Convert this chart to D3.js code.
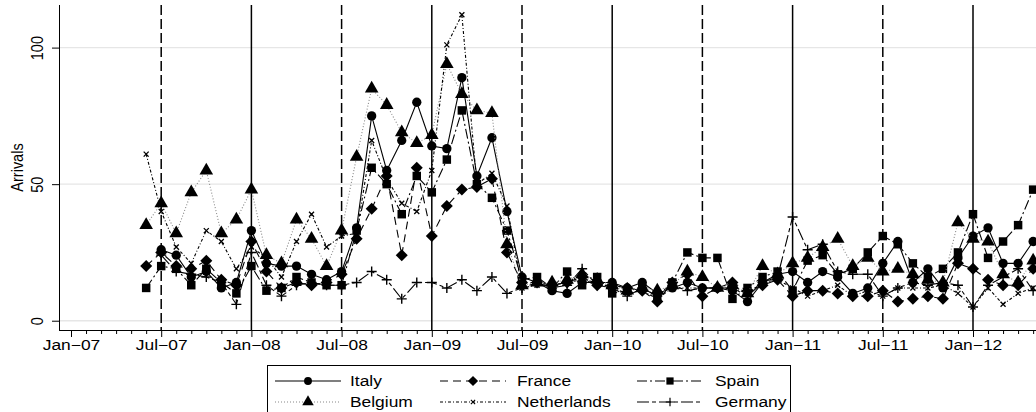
<!DOCTYPE html>
<html>
<head>
<meta charset="utf-8">
<script src="https://cdn.jsdelivr.net/npm/d3@7"></script>
<style>
  body { margin: 0; background: #fff; }
  svg { display: block; font-family: "Liberation Sans", Arial, sans-serif; }
</style>
</head>
<body>
<div id="chart"></div>
<script>
// months since Jan-07; data runs Jun-07 .. May-12
const firstMonth = 5;
const monthNames = ['Jan', 'Jul'];
const tickMonths = [0, 6, 12, 18, 24, 30, 36, 42, 48, 54, 60];
const solidLineMonths = [12, 24, 36, 48, 60];
const dashedLineMonths = [6, 18, 30, 42, 54];
const yTicks = [0, 50, 100];

const italy = [null, 26, 24, 16, 18, 12, 14, 33, 21, 20, 20, 17, 15, 18, 34, 75, 55, 66, 80, 64, 63, 89, 53, 67, 40, 16, 14, 11, 10, 14, 14, 14, 12, 14, 10, 12, 14, 12, 12, 11, 7, 14, 17, 18, 14, 18, 16, 10, 12, 21, 29, 14, 19, 12, 23, 31, 34, 21, 21, 29];
const france = [20, 25, 20, 19, 22, 15, 13, 29, 18, 12, 14, 13, 14, 17, 30, 41, 53, 24, 56, 31, 42, 48, 49, 52, 25, 14, 14, 13, 14, 16, 13, 13, 12, 11, 7, 14, 17, 9, 12, 14, 11, 13, 15, 9, 11, 11, 10, 9, 9, 11, 7, 8, 9, 8, 21, 19, 15, 13, 13, 19];
const spain = [12, 20, 19, 13, 19, 14, 10, 20, 11, 12, 16, 14, 13, 13, 33, 56, 50, 39, 53, 47, 59, 77, 50, 45, 33, 15, 16, 12, 18, 13, 16, 10, 11, 12, 9, 14, 25, 23, 23, 8, 12, 16, 18, 11, 22, 24, 17, 19, 25, 31, 28, 21, 16, 19, 25, 39, 23, 29, 35, 48];
const belgium = [35, 43, 32, 47, 55, 32, 37, 48, 24, 21, 37, 30, 20, 33, 60, 85, 79, 69, 65, 68, 94, 83, 77, 76, 28, 13, 14, 14, 15, 17, 15, 13, 11, 12, 11, 13, 18, 16, 12, 13, 10, 20, 17, 21, 23, 27, 30, 20, 23, 18, 19, 17, 15, 14, 36, 30, 29, 17, 14, 22];
const netherlands = [61, 40, 27, 21, 33, 29, 19, 27, 23, 16, 29, 39, 27, 31, 32, 66, 52, 43, 40, 55, 101, 112, 50, 54, 42, 12, 13, 13, 14, 15, 14, 12, 10, 11, 8, 12, 12, 12, 12, 12, 10, 14, 15, 12, 9, 11, 13, 9, 11, 9, 12, 12, 12, 13, 10, 5, 12, 6, 10, 12];
const germany = [null, 24, 18, 17, 16, 14, 6, 25, 13, 9, 13, 14, 13, 13, 14, 18, 15, 8, 14, 14, 12, 15, 11, 16, 10, 12, 14, 12, 13, 19, 13, 12, 9, 12, 9, 13, 11, 12, 12, 12, 9, 14, 16, 38, 26, 28, 18, 17, 17, 9, 12, 14, 13, 14, 13, 5, 13, 16, 19, 11];

const countries = ['Italy', 'France', 'Spain', 'Belgium', 'Netherlands', 'Germany'];
const seriesValues = [italy, france, spain, belgium, netherlands, germany];

const styles = {
  Italy: { dash: null, color: '#000', marker: 'circle' },
  France: { dash: '8,5', color: '#000', marker: 'diamond' },
  Spain: { dash: '10,3,2,3', color: '#000', marker: 'square' },
  Belgium: { dash: '1,2', color: '#888', marker: 'triangle' },
  Netherlands: { dash: '3,2,1,2', color: '#000', marker: 'x' },
  Germany: { dash: '12,3,4,3', color: '#000', marker: 'plus' }
};

const width = 1036;
const height = 412;
const fontSize = 14.5;
const stretch = 'scale(1.2,1)';

const x = d3.scaleLinear().domain([0, 60]).range([71, 973]);
const y = d3.scaleLinear().domain([-3.4, 115.6]).range([330, 5]);
const plotLeft = 59;

const svg = d3.select('#chart')
  .append('svg')
  .attr('width', width)
  .attr('height', height);

// horizontal grid
svg.append('g')
  .selectAll('line')
  .data(yTicks)
  .join('line')
  .attr('x1', plotLeft)
  .attr('x2', width)
  .attr('y1', d => y(d))
  .attr('y2', d => y(d))
  .attr('stroke', '#e6e6e6')
  .attr('stroke-width', 1.4);

// vertical reference lines
svg.append('g')
  .selectAll('line')
  .data(solidLineMonths)
  .join('line')
  .attr('x1', d => x(d))
  .attr('x2', d => x(d))
  .attr('y1', 5)
  .attr('y2', 330)
  .attr('stroke', '#000')
  .attr('stroke-width', 1.5);

svg.append('g')
  .selectAll('line')
  .data(dashedLineMonths)
  .join('line')
  .attr('x1', d => x(d))
  .attr('x2', d => x(d))
  .attr('y1', 5)
  .attr('y2', 330)
  .attr('stroke', '#000')
  .attr('stroke-width', 1.5)
  .attr('stroke-dasharray', '10,4');

// axes
const fmtMonth = m => {
  const yr = 7 + Math.floor(m / 12);
  return monthNames[(m % 12) / 6] + '\u2212' + String(yr).padStart(2, '0');
};

const xAxis = svg.append('g')
  .attr('transform', 'translate(0,330)')
  .call(d3.axisBottom(x).tickValues(tickMonths).tickFormat(fmtMonth).tickSize(7).tickPadding(4));
xAxis.select('.domain').attr('d', `M${plotLeft},0.5H${width}`);
xAxis.selectAll('text')
  .attr('font-size', fontSize)
  .attr('fill', '#000')
  .attr('font-family', '"Liberation Sans", Arial, sans-serif')
  .attr('y', 10)
  .attr('transform', stretch);

const minorMonths = d3.range(0, 66).filter(m => m % 6 !== 0);
const xMinor = svg.append('g')
  .attr('transform', 'translate(0,330)')
  .call(d3.axisBottom(x).tickValues(minorMonths).tickFormat('').tickSize(4));
xMinor.select('.domain').remove();

const yAxis = svg.append('g')
  .attr('transform', `translate(${plotLeft},0)`)
  .call(d3.axisLeft(y).tickValues(yTicks).tickSize(7).tickFormat(d3.format('d')));
yAxis.select('.domain').attr('d', 'M0.5,5V330');
yAxis.selectAll('text')
  .attr('font-size', fontSize)
  .attr('fill', '#000')
  .attr('font-family', '"Liberation Sans", Arial, sans-serif')
  .attr('x', null)
  .attr('dy', null)
  .attr('text-anchor', 'middle')
  .attr('transform', `translate(-16,0) ${stretch} rotate(-90)`);

svg.append('text')
  .attr('transform', `translate(23,${(5 + 330) / 2}) ${stretch} rotate(-90)`)
  .attr('text-anchor', 'middle')
  .attr('font-size', fontSize)
  .text('Arrivals');

// markers
function markerPath(kind) {
  if (kind === 'circle') return d3.symbol(d3.symbolCircle, 68)();
  if (kind === 'square') return d3.symbol(d3.symbolSquare, 72)();
  if (kind === 'triangle') return d3.symbol(d3.symbolTriangle, 80)();
  if (kind === 'diamond') return 'M0,-6L6,0L0,6L-6,0Z';
  if (kind === 'x') return 'M-2.5,-2.5L2.5,2.5M-2.5,2.5L2.5,-2.5';
  return 'M-5,0H5M0,-5V5';
}

function drawMarker(sel, kind) {
  sel.attr('d', markerPath(kind));
  if (kind === 'x' || kind === 'plus') {
    sel.attr('fill', 'none').attr('stroke', '#000').attr('stroke-width', kind === 'x' ? 1.3 : 1.4);
  } else {
    sel.attr('fill', '#000').attr('stroke', 'none');
  }
}

const line = d3.line()
  .defined(d => d.v !== null)
  .x(d => x(d.m))
  .y(d => y(d.v));

countries.forEach((name, k) => {
  const st = styles[name];
  const pts = seriesValues[k].map((v, i) => ({ m: firstMonth + i, v }));
  const g = svg.append('g');
  g.append('path')
    .datum(pts)
    .attr('d', line)
    .attr('fill', 'none')
    .attr('stroke', st.color)
    .attr('stroke-width', 1.1)
    .attr('stroke-dasharray', st.dash);
  g.selectAll('path.mk')
    .data(pts.filter(d => d.v !== null))
    .join('path')
    .attr('class', 'mk')
    .attr('transform', d => `translate(${x(d.m)},${y(d.v)})`)
    .call(drawMarker, st.marker);
});

// legend
const legend = svg.append('g');
legend.append('rect')
  .attr('x', 267.5)
  .attr('y', 365.5)
  .attr('width', 523)
  .attr('height', 70)
  .attr('fill', '#fff')
  .attr('stroke', '#000');

const colX = [275, 440, 637];
const textX = [350, 517, 715];
const rowY = [381, 402];
countries.forEach((name, k) => {
  const st = styles[name];
  const cx = colX[k % 3];
  const cy = rowY[Math.floor(k / 3)];
  legend.append('line')
    .attr('x1', cx)
    .attr('x2', cx + 66)
    .attr('y1', cy)
    .attr('y2', cy)
    .attr('stroke', st.color)
    .attr('stroke-width', 1.1)
    .attr('stroke-dasharray', st.dash);
  legend.append('path')
    .call(drawMarker, st.marker)
    .attr('transform', `translate(${cx + 33},${cy}) scale(0.85)`);
  legend.append('text')
    .attr('transform', `translate(${textX[k % 3]},${cy + 5}) ${stretch}`)
    .attr('font-size', fontSize)
    .text(name);
});
</script>
</body>
</html>
